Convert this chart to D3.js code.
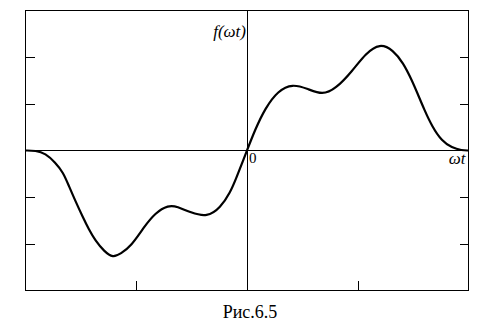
<!DOCTYPE html>
<html>
<head>
<meta charset="utf-8">
<title>Рис.6.5</title>
<script src="https://d3js.org/d3.v7.min.js"></script>
<style>
    body { margin: 0; background: #fff; }
</style>
</head>
<body>
<div id="chart"></div>
<script>
// Curve points (x in tick units, y in tick units)
var xs = [-2.0, -1.91, -1.82, -1.73, -1.66, -1.61, -1.55, -1.48, -1.43, -1.37, -1.29, -1.21, -1.14, -1.05, -0.93, -0.83, -0.71, -0.63, -0.51, -0.36, -0.24, -0.15, -0.105,
          0.0, 0.07, 0.165, 0.28, 0.41, 0.55, 0.68, 0.80, 0.95, 1.07, 1.20, 1.32, 1.41, 1.49, 1.54, 1.60, 1.67, 1.76, 1.85, 1.94, 2.0];
var ys = [0.0, 0.0, -0.06, -0.26, -0.47, -0.75, -1.08, -1.44, -1.68, -1.93, -2.16, -2.30, -2.21, -2.06, -1.64, -1.34, -1.17, -1.20, -1.33, -1.43, -1.23, -0.89, -0.64,
          0.0, 0.43, 0.91, 1.28, 1.43, 1.32, 1.19, 1.32, 1.70, 2.08, 2.30, 2.15, 1.88, 1.50, 1.22, 0.88, 0.52, 0.20, 0.06, 0.0, 0.0];
var xTicks = [-1, 1];
var yTicks = [-2, -1, 1, 2];

var width = 493, height = 332;
var svg = d3.select("#chart").append("svg")
    .attr("width", width)
    .attr("height", height);

var x = d3.scaleLinear().domain([-2, 2]).range([25.5, 468.5]);
var y = d3.scaleLinear().domain([-3, 3]).range([290.5, 10.5]);

// frame
svg.append("rect")
    .attr("x", x(-2)).attr("y", y(3))
    .attr("width", x(2) - x(-2)).attr("height", y(-3) - y(3))
    .attr("fill", "none").attr("stroke", "#000").attr("stroke-width", 1.3)
    .attr("shape-rendering", "crispEdges");

// inward ticks
function styleAxis(g) {
    g.select(".domain").remove();
    g.selectAll("line").attr("stroke", "#000").attr("stroke-width", 1.2).attr("shape-rendering", "crispEdges");
    g.selectAll("text").remove();
}
svg.append("g").attr("transform", "translate(" + x(-2) + ",0)")
    .call(d3.axisLeft(y).tickValues(yTicks).tickSize(-9).tickFormat(""))
    .call(styleAxis);
svg.append("g").attr("transform", "translate(" + x(2) + ",0)")
    .call(d3.axisRight(y).tickValues(yTicks).tickSize(-9).tickFormat(""))
    .call(styleAxis);
svg.append("g").attr("transform", "translate(0," + y(-3) + ")")
    .call(d3.axisBottom(x).tickValues(xTicks).tickSize(-10).tickFormat(""))
    .call(styleAxis);

// zero axes
svg.append("line")
    .attr("x1", x(-2)).attr("x2", x(2)).attr("y1", y(0)).attr("y2", y(0))
    .attr("stroke", "#000").attr("stroke-width", 1).attr("shape-rendering", "crispEdges");
svg.append("line")
    .attr("x1", x(0)).attr("x2", x(0)).attr("y1", y(3)).attr("y2", y(-3))
    .attr("stroke", "#000").attr("stroke-width", 1).attr("shape-rendering", "crispEdges");

// curve (B-spline to smooth out reading noise)
var pts = xs.map((d, i) => [d, ys[i]]);
var line = d3.line()
    .x(d => x(d[0]))
    .y(d => y(d[1]))
    .curve(d3.curveBasis);
svg.append("path")
    .datum(pts)
    .attr("d", line)
    .attr("fill", "none")
    .attr("stroke", "#000")
    .attr("stroke-width", 2.2);

// labels
function label(tx, ty, str, size, italic, anchor) {
    svg.append("text")
        .attr("x", tx).attr("y", ty)
        .attr("text-anchor", anchor)
        .attr("font-family", "Liberation Serif")
        .attr("font-size", size)
        .attr("font-style", italic ? "italic" : "normal")
        .attr("fill", "#000")
        .text(str);
}
label(x(0) - 1, 37, "f(ωt)", 17, true, "end");
label(x(0) + 2, 163, "0", 15, false, "start");
label(x(2) - 3, 164, "ωt", 17, true, "end");
label(250, 318, "Рис.6.5", 18, false, "middle");
</script>
</body>
</html>
